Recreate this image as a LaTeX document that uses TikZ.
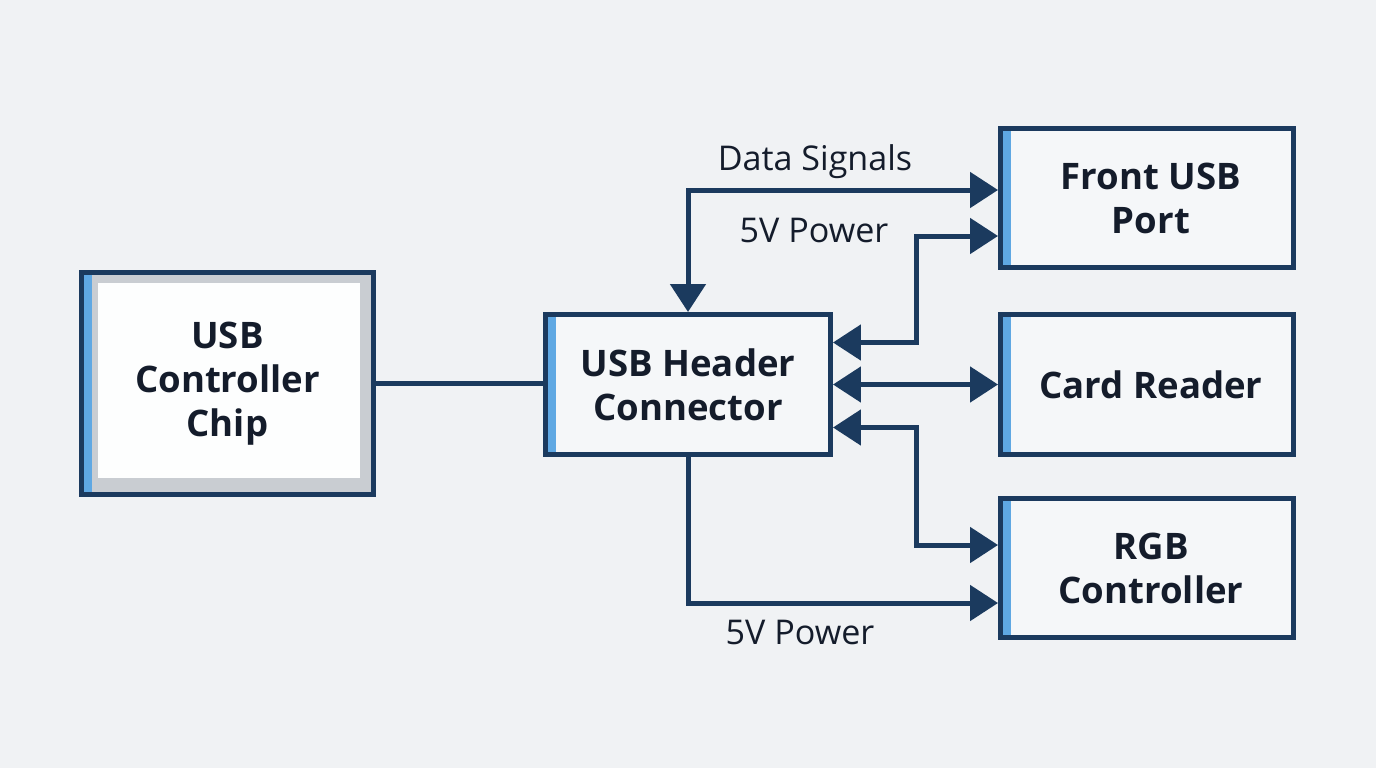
\documentclass[tikz,border=0pt]{standalone}
\usepackage{fontspec}
\setmainfont{Open Sans}
\usetikzlibrary{calc}
\usetikzlibrary{arrows.meta}

\definecolor{navy}{HTML}{1B3A5E}
\definecolor{stripe}{HTML}{5FA8E3}
\definecolor{paper}{HTML}{F0F2F4}
\definecolor{boxfill}{HTML}{F5F7F9}
\definecolor{chipframe}{HTML}{C9CDD2}
\definecolor{ink}{HTML}{141C2B}

\tikzset{
  unit/.style={draw=navy, line width=0.1cm, fill=boxfill, inner sep=0pt,
    minimum width=5.86cm, minimum height=2.8cm, align=center, text=ink,
    font=\fontsize{20.8}{25}\selectfont\bfseries,
    path picture={\fill[stripe] (path picture bounding box.north west)
      rectangle ([xshift=0.2cm]path picture bounding box.south west);}},
  chipunit/.style={unit, fill=chipframe,
    path picture={
      \fill[white!85!boxfill] ([shift={(16.5,10.5)}]path picture bounding box.north west)
        rectangle ([shift={(-13.5,-16.5)}]path picture bounding box.south east);
      \fill[stripe] (path picture bounding box.north west)
        rectangle ([xshift=0.2cm]path picture bounding box.south west);}},
  wire/.style={draw=navy, line width=0.1cm},
  lbl/.style={anchor=base, text=ink, font=\fontsize{19.4}{23}\selectfont},
}

\begin{document}
\begin{tikzpicture}[x=0.02cm, y=-0.02cm, >={Triangle[length=0.56cm,width=0.7cm]}]
    % Border.
    \fill[paper] (0,0) rectangle (1376,768);
    % Blocks.
    \node[chipunit, minimum width=5.84cm, minimum height=4.44cm] (chip) at (227.5,383.5) {USB\\Controller\\Chip};
    \node[unit, minimum width=5.7cm] (header) at (688,384.5) {USB Header\\Connector};
    \node[unit, minimum height=2.78cm] (front) at (1147,198) {\hspace*{0.16cm}Front USB\\\hspace*{0.16cm}Port};
    \node[unit] (card) at (1147,384.5) {\hspace*{0.16cm}Card Reader};
    \node[unit, minimum height=2.78cm] (rgb) at (1147,568) {\hspace*{0.16cm}RGB\\\hspace*{0.16cm}Controller};
    % Links.
    \draw[wire] (chip.east) -- (chip.east -| header.west);
    \draw[wire, <->] (header.north) |- ($(front.west)+(0,-8)$);
    \draw[wire, <->] ($(header.east)+(0,-42)$) -- ++(84,0) |- ($(front.west)+(0,38)$);
    \draw[wire, <->] (header.east) -- (card.west);
    \draw[wire, <->] ($(header.east)+(0,43)$) -- ++(84,0) |- ($(rgb.west)+(0,-23)$);
    \draw[wire, ->] (header.south) |- ($(rgb.west)+(0,35)$);
    % Labels.
    \node[lbl] (datalbl) at (815,170) {Data Signals};
    \node[lbl] (toppower) at (814,242) {5V Power};
    \node[lbl] (botpower) at (800,644) {5V Power};
\end{tikzpicture}
\end{document}
